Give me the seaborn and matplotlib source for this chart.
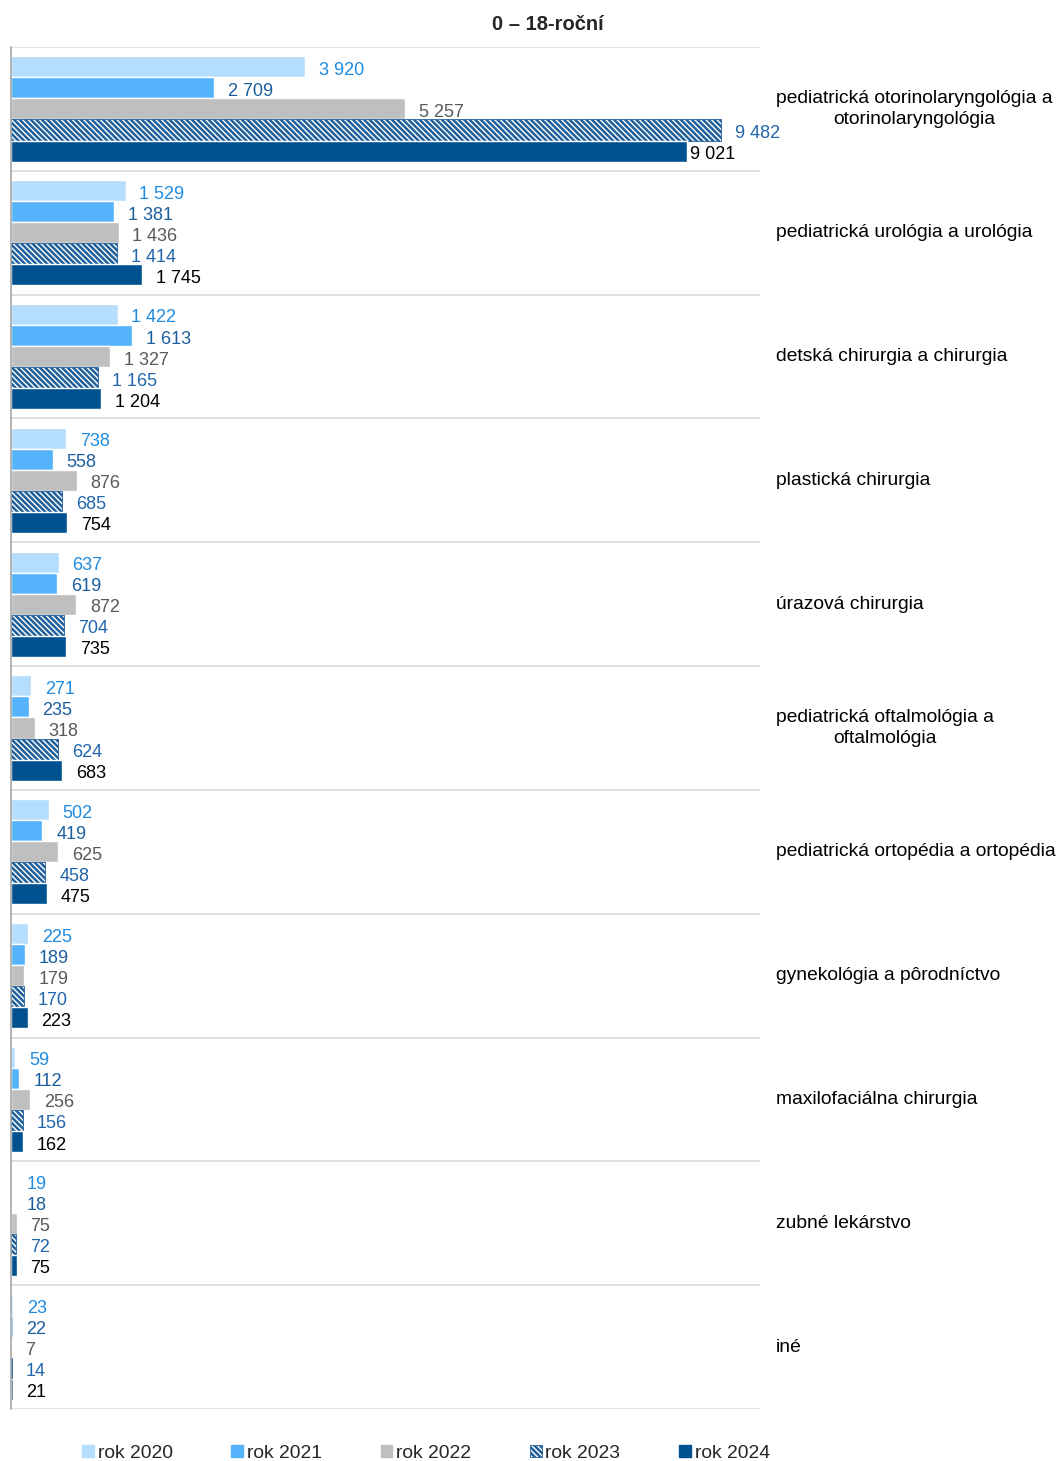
import matplotlib
matplotlib.use("Agg")
import matplotlib.pyplot as plt
import matplotlib.transforms as mtransforms
from matplotlib.patches import Patch
import pandas as pd
import seaborn as sns

categories = [
    "pediatrická otorinolaryngológia a\notorinolaryngológia",
    "pediatrická urológia a urológia",
    "detská chirurgia a chirurgia",
    "plastická chirurgia",
    "úrazová chirurgia",
    "pediatrická oftalmológia a\noftalmológia",
    "pediatrická ortopédia a ortopédia",
    "gynekológia a pôrodníctvo",
    "maxilofaciálna chirurgia",
    "zubné lekárstvo",
    "iné",
]
years = ["rok 2020", "rok 2021", "rok 2022", "rok 2023", "rok 2024"]
v2020 = [3920, 1529, 1422, 738, 637, 271, 502, 225, 59, 19, 23]
v2021 = [2709, 1381, 1613, 558, 619, 235, 419, 189, 112, 18, 22]
v2022 = [5257, 1436, 1327, 876, 872, 318, 625, 179, 256, 75, 7]
v2023 = [9482, 1414, 1165, 685, 704, 624, 458, 170, 156, 72, 14]
v2024 = [9021, 1745, 1204, 754, 735, 683, 475, 223, 162, 75, 21]

bar_colors = ["#B5DDFD", "#55B3FC", "#BFBFBF", "#FFFFFF", "#00518F"]
label_colors = ["#1E8BE0", "#1B5E9E", "#595959", "#2166AC", "#000000"]
hatch_color = "#1F5F9A"
hatch = "\\" * 6

rows = []
for y, vals in zip(years, [v2020, v2021, v2022, v2023, v2024]):
    for c, v in zip(categories, vals):
        rows.append({"category": c, "year": y, "value": v})
df = pd.DataFrame(rows)

sns.set_style("white")
plt.rcParams["font.family"] = ["Liberation Sans", "DejaVu Sans"]
plt.rcParams["hatch.linewidth"] = 1.8

fig = plt.figure(figsize=(10.59, 14.61), dpi=100)
ax = fig.add_axes([0.0104, 0.0356, 0.7073, 0.9322])

sns.barplot(data=df, y="category", x="value", hue="year", orient="h",
            palette=bar_colors, width=0.85, ax=ax, legend=False,
            saturation=1, order=categories, hue_order=years)

# 2023 is drawn with diagonal stripes
for bar in ax.containers[3]:
    bar.set_facecolor("white")
    bar.set_edgecolor(hatch_color)
    bar.set_hatch(hatch)
    bar.set_linewidth(0.6)

def fmt(v):
    return f"{int(v):,}".replace(",", " ")

for k, (cont, col) in enumerate(zip(ax.containers, label_colors)):
    texts = ax.bar_label(cont, labels=[fmt(b.get_width()) for b in cont],
                         padding=10, color=col, fontsize=13)
    for t, b in zip(texts, cont):
        # the long 2024 label sits tight against its bar in the original
        pad = 2.5 if (k == 4 and b.get_width() > 8000) else 10
        t.xyann = (pad, -2.5)

ax.set_xlim(0, 10000)
ax.set_ylim(len(categories) - 0.5, -0.5)
for i in range(len(categories) + 1):
    ax.axhline(i - 0.5, color="#D9D9D9", lw=1.2, zorder=0)

ax.set_xticks([])
ax.set_yticks([])
ax.set_xlabel("")
ax.set_ylabel("")
for s in ["top", "right", "bottom"]:
    ax.spines[s].set_visible(False)
ax.spines["left"].set_color("#A6A6A6")
ax.spines["left"].set_linewidth(1.2)

trans = mtransforms.blended_transform_factory(fig.transFigure, ax.transData)
for i, c in enumerate(categories):
    ax.text(776 / 1059, i, c, transform=trans, ha="left", va="center",
            multialignment="center", fontsize=13.9, color="#000000",
            linespacing=1.3)

fig.text(548 / 1059, 1 - 24 / 1461, "0 – 18-roční", ha="center", va="center",
         fontsize=14.5, fontweight="bold")

handles = []
for y, col in zip(years, bar_colors):
    if y == "rok 2023":
        handles.append(Patch(facecolor="white", edgecolor=hatch_color,
                             hatch=hatch, label=y, linewidth=0.6))
    else:
        handles.append(Patch(facecolor=col, edgecolor=col, label=y))
fig.legend(handles=handles, loc="center", bbox_to_anchor=(426 / 1059, 1 - 1453 / 1461),
           ncol=5, frameon=False, fontsize=13.9, handlelength=0.6,
           handleheight=0.6, handletextpad=0.2, columnspacing=3.05)

fig.savefig("out.png", dpi=100)
